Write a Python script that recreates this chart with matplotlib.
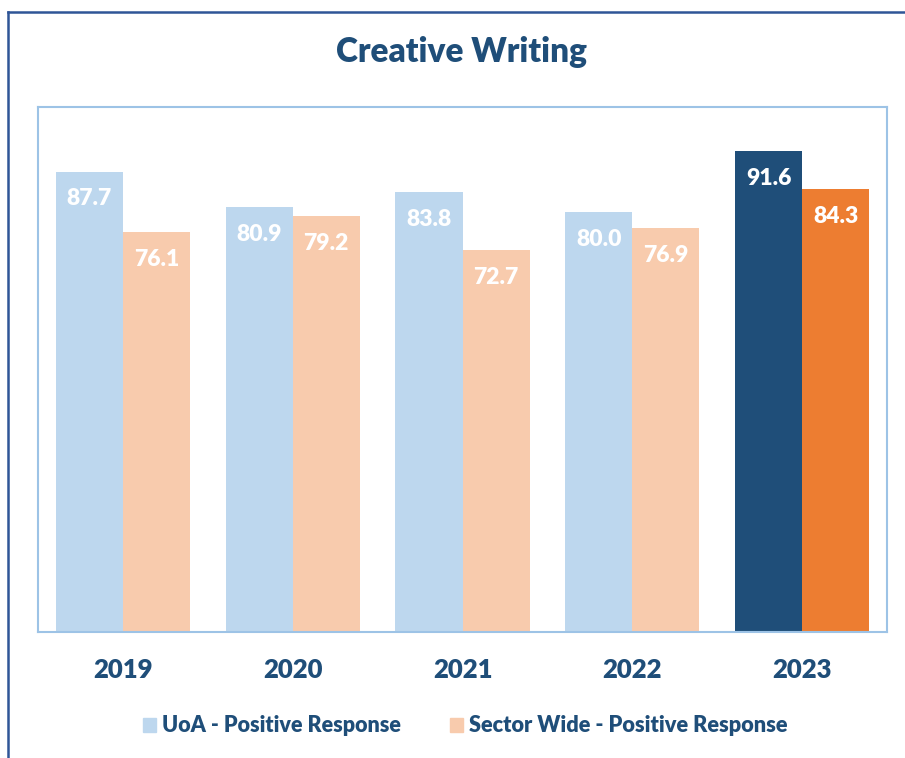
import matplotlib
matplotlib.use("Agg")
import matplotlib.pyplot as plt
from matplotlib.patches import Rectangle
from matplotlib.lines import Line2D
import numpy as np

years = ["2019", "2020", "2021", "2022", "2023"]
uoa = [87.7, 80.9, 83.8, 80.0, 91.6]
sector = [76.1, 79.2, 72.7, 76.9, 84.3]
series_names = ["UoA - Positive Response", "Sector Wide - Positive Response"]
title = "Creative Writing"

plt.rcParams['font.family'] = ['Lato', 'DejaVu Sans']

uoa_light, uoa_dark = "#BDD7EE", "#1F4E79"
sec_light, sec_dark = "#F8CBAD", "#ED7D31"
text_col = "#1F4E79"

fig = plt.figure(figsize=(9.05, 7.58), dpi=100)
W, H = 905, 758

# outer frame lines (left and top)
fig.add_artist(Line2D([8/W, 8/W], [0, 1 - 12/H], color="#2F5597", lw=1.8, transform=fig.transFigure))
fig.add_artist(Line2D([8/W, 1], [1 - 12/H, 1 - 12/H], color="#2F5597", lw=1.8, transform=fig.transFigure))

ax = fig.add_axes([38/W, 1 - 632/H, 849/W, 525/H])
x = np.arange(len(years))
bw = 0.395
uoa_cols = [uoa_light] * (len(years) - 1) + [uoa_dark]
sec_cols = [sec_light] * (len(years) - 1) + [sec_dark]
b1 = ax.bar(x - bw/2, uoa, bw, color=uoa_cols)
b2 = ax.bar(x + bw/2, sector, bw, color=sec_cols)
for bars, vals in ((b1, uoa), (b2, sector)):
    for r, v in zip(bars, vals):
        ax.text(r.get_x() + r.get_width()/2, v - 5.2, f"{v:.1f}", ha="center", va="center",
                color="white", fontsize=16.5, fontweight="heavy")

ax.set_xlim(-0.5, len(years) - 0.5)
ax.set_ylim(0, 100)
ax.set_yticks([])
ax.set_xticks(x)
ax.set_xticklabels(years, fontsize=18.5, fontweight="heavy", color=text_col)
ax.tick_params(axis="x", length=0, pad=19)
for s in ax.spines.values():
    s.set_color("#9DC3E6")
    s.set_linewidth(1.5)

fig.text(462/W, 1 - 52/H, title, ha="center", va="center", fontsize=24, fontweight="heavy", color=text_col)

# legend
fig.add_artist(Rectangle((143/W, 1 - 732/H), 13/W, 14/H, color=uoa_light, transform=fig.transFigure))
fig.text(162/W, 1 - 725/H, series_names[0], ha="left", va="center", fontsize=15.5, fontweight="heavy", color=text_col)
fig.add_artist(Rectangle((450/W, 1 - 732/H), 13/W, 14/H, color=sec_light, transform=fig.transFigure))
fig.text(469/W, 1 - 725/H, series_names[1], ha="left", va="center", fontsize=15.7, fontweight="heavy", color=text_col)

fig.savefig("out.png", dpi=100)
